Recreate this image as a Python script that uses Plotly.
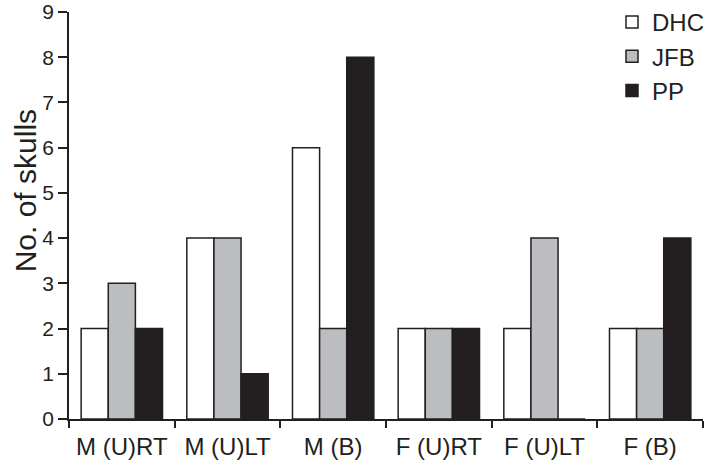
import plotly.graph_objects as go

categories = ["M (U)RT", "M (U)LT", "M (B)", "F (U)RT", "F (U)LT", "F (B)"]
dhc = [2, 4, 6, 2, 2, 2]
jfb = [3, 4, 2, 2, 4, 2]
pp = [2, 1, 8, 2, 0, 4]

series = [("DHC", dhc, "#ffffff"), ("JFB", jfb, "#bcbdc0"), ("PP", pp, "#231f20")]

fig = go.Figure()
for name, vals, col in series:
    fig.add_trace(go.Bar(x=categories, y=vals, name=name,
                         marker=dict(color=col, line=dict(color="#231f20", width=1.5))))

font = "Liberation Sans, Arial, sans-serif"
fig.update_layout(
    width=709, height=460,
    margin=dict(l=69, r=6, t=12, b=41, autoexpand=False),
    plot_bgcolor="white", paper_bgcolor="white",
    barmode="group", bargap=0.23, bargroupgap=0,
    font=dict(family=font, color="#231f20"),
    legend=dict(xref="container", yref="container", x=1.0, y=1.008,
                xanchor="right", yanchor="top",
                font=dict(size=24), bgcolor="rgba(0,0,0,0)", tracegroupgap=0),
    xaxis=dict(showline=True, linecolor="#231f20", linewidth=1.5, automargin=False,
               ticks="outside", tickson="boundaries", ticklen=7, tickcolor="#231f20",
               tickwidth=1.5, tickfont=dict(size=24), ticklabelstandoff=5, showgrid=False),
    yaxis=dict(range=[0, 9], dtick=1, showline=True, linecolor="#231f20", linewidth=1.5,
               automargin=False, ticklabeloverflow="allow",
               ticks="outside", ticklen=9, tickcolor="#231f20", tickwidth=1.5,
               tickfont=dict(size=21), showgrid=False, zeroline=False),
)

# y title sits a bit above the plot's middle in the original
fig.add_annotation(text="No. of skulls", xref="paper", yref="paper",
                   x=-0.069, y=0.56, xanchor="center", yanchor="middle",
                   textangle=-90, showarrow=False, font=dict(size=30))

# page body has a default 8px margin; drop it so the figure fills the window
fig.write_html("out.html", config={"displayModeBar": False},
               post_script="document.body.style.margin='0';")
